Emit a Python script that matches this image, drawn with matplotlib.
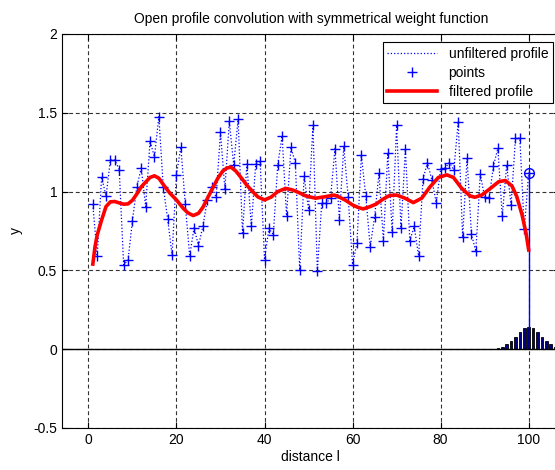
import numpy as np
import matplotlib.pyplot as plt

plt.rcParams['font.family'] = ['Liberation Sans', 'DejaVu Sans']

# measured profile, one sample per unit of distance
dist = np.arange(1, 101)
profile = [0.92, 0.59, 1.095, 0.97, 1.20, 1.20, 1.14, 0.535, 0.565, 0.816,
           1.03, 1.15, 0.905, 1.32, 1.22, 1.476, 1.03, 0.825, 0.60, 1.108,
           1.283, 0.92, 0.59, 0.772, 0.656, 0.78, 0.945, 1.03, 0.965, 1.375,
           1.015, 1.445, 1.17, 1.459, 0.736, 1.175, 0.78, 1.175, 1.197, 0.567,
           0.767, 0.725, 1.17, 1.353, 0.846, 1.28, 1.184, 0.50, 1.10, 0.886,
           1.42, 0.495, 0.93, 0.925, 0.96, 1.272, 0.822, 1.287, 0.964, 0.537,
           0.675, 1.23, 0.972, 0.65, 0.838, 1.116, 0.688, 1.244, 0.745, 1.42,
           0.767, 1.268, 0.688, 0.779, 0.591, 1.078, 1.184, 1.074, 0.93, 1.142,
           1.15, 1.184, 1.137, 1.444, 0.71, 1.21, 0.73, 0.62, 1.112, 0.964,
           0.958, 1.163, 1.275, 0.846, 1.17, 0.915, 1.338, 1.338, 0.761, 1.12]

# convolution result
filt_x = [1, 1.5, 2, 3, 4, 5, 6, 7, 8, 9, 10, 11, 12, 13, 14, 15, 16, 17,
          18.5, 20, 21.5, 22.6, 23.8, 25, 26, 27, 28.3, 29.4, 30.5, 31.5,
          32.4, 33.5, 34.5, 36, 37.3, 38.5, 40, 41.5, 43, 44.8, 46.4, 47.7,
          49.4, 51.6, 53.9, 55.8, 57, 58.4, 60, 61.2, 62.4, 64, 65.3, 66.8,
          68.4, 70, 71.9, 73.8, 75.7, 77.6, 79.5, 81.4, 82.9, 84.8, 86.7,
          87.8, 89.4, 91.3, 93.2, 94.7, 96.2, 97.3, 98.5, 99.4, 100]
filt_y = [0.54, 0.65, 0.725, 0.82, 0.905, 0.935, 0.937, 0.928, 0.92, 0.922,
          0.945, 0.985, 1.03, 1.06, 1.09, 1.10, 1.085, 1.045, 0.99, 0.947,
          0.895, 0.865, 0.848, 0.862, 0.90, 0.955, 1.027, 1.085, 1.13, 1.15,
          1.155, 1.13, 1.095, 1.04, 1.0, 0.966, 0.947, 0.965, 1.0, 1.02,
          1.01, 0.995, 0.972, 0.958, 0.968, 0.978, 0.965, 0.945, 0.915, 0.9,
          0.89, 0.905, 0.92, 0.95, 0.975, 0.978, 0.958, 0.93, 0.958, 1.03,
          1.09, 1.106, 1.09, 1.02, 0.972, 0.964, 0.979, 1.02, 1.063, 1.07,
          1.036, 0.968, 0.852, 0.736, 0.63]

# symmetrical weight function centred on the last sample
w_x = np.arange(93, 108)
w_y = [0.008, 0.015, 0.032, 0.053, 0.080, 0.110, 0.133, 0.142,
       0.133, 0.110, 0.080, 0.053, 0.032, 0.015, 0.008]

fig = plt.figure(figsize=(5.55, 4.70), dpi=100)
ax = fig.add_axes([0.1117, 0.0894, 0.8964, 0.8383])

ax.bar(w_x, w_y, width=0.6, color='#000080', edgecolor='k', linewidth=0.6, zorder=2)
ax.axhline(0, color='k', lw=1.0, zorder=2)

ax.plot(dist, profile, ':', color='b', lw=0.9, label='unfiltered profile', zorder=3)
ax.plot(dist, profile, '+', color='b', ms=7, mew=1.0, label='points', zorder=3)
ax.plot(filt_x, filt_y, '-', color='r', lw=2.6, label='filtered profile', zorder=4)

# current position of the window
ax.plot([dist[-1], dist[-1]], [profile[-1], max(w_y)], color='b', lw=1.0, zorder=3)
ax.plot(dist[-1], profile[-1], 'o', mfc='none', mec='b', ms=7, mew=1.0, zorder=5)

ax.set_xlim(-6, 107)
ax.set_ylim(-0.5, 2)
ax.set_xticks(range(0, 101, 20))
ax.set_yticks([-0.5, 0, 0.5, 1, 1.5, 2])
ax.set_yticklabels(['-0.5', '0', '0.5', '1', '1.5', '2'])
ax.tick_params(direction='in', labelsize=10, top=True, right=True, length=4)
ax.grid(True, color='0.2', linestyle=(0, (3.5, 2.5)), lw=0.8)
ax.set_axisbelow(True)

ax.set_title('Open profile convolution with symmetrical weight function', fontsize=10, pad=8)
ax.set_xlabel('distance l', fontsize=10, labelpad=2)
ax.set_ylabel('y', fontsize=10)
ax.yaxis.set_label_coords(-0.078, 0.5)

leg = ax.legend(loc='upper right', bbox_to_anchor=(0.9964, 0.9106),
                bbox_transform=fig.transFigure, fontsize=10, fancybox=False,
                framealpha=1, edgecolor='k', borderaxespad=0, handlelength=3.6,
                borderpad=0.35, labelspacing=0.35)
leg.get_frame().set_linewidth(0.8)

fig.savefig('out.png', dpi=100)
